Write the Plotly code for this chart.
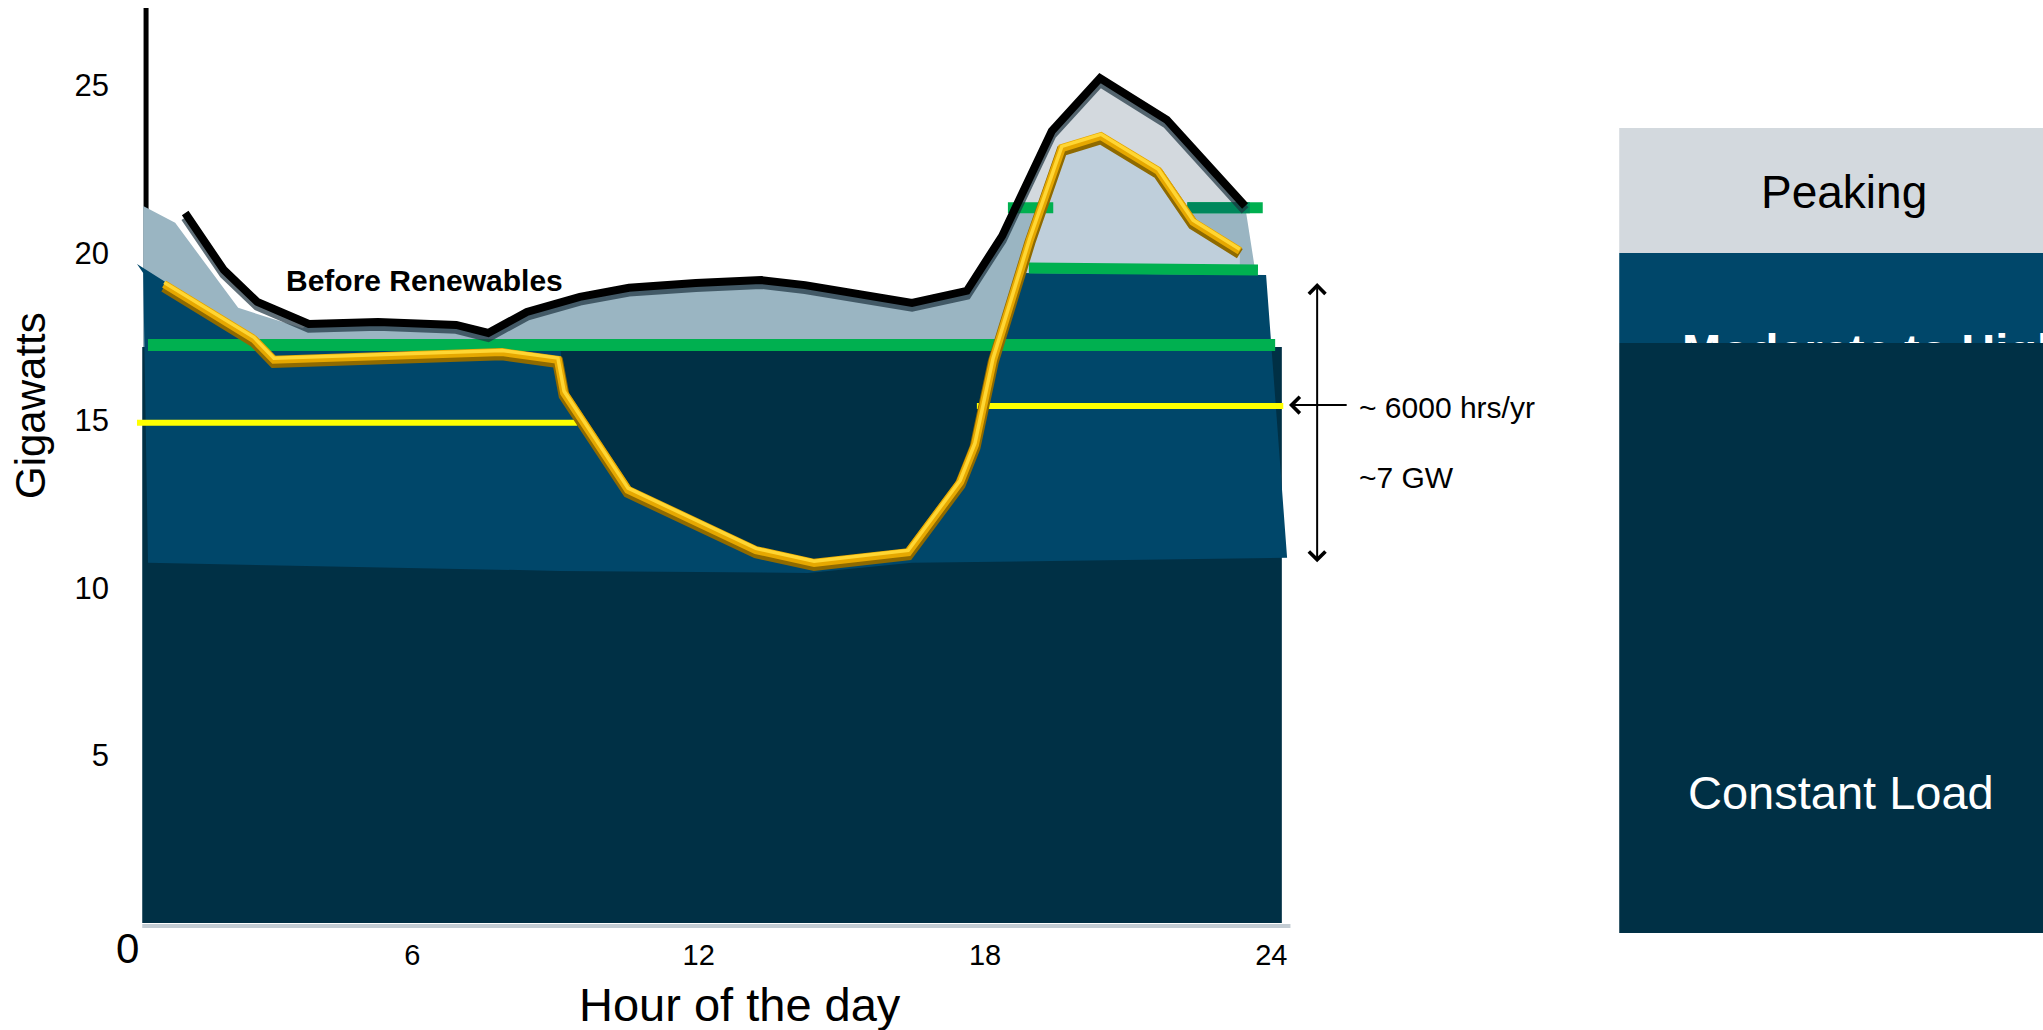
import numpy as np
import plotly.graph_objects as go

# ---------------- data ----------------
hour_ticks = [0, 6, 12, 18, 24]
hour_tick_text = ["", "6", "12", "18", "24"]
gw_ticks = [5, 10, 15, 20, 25]

# "Before Renewables" load curve (black)
before_hours = [1.24, 2.05, 2.75, 3.83, 5.28, 6.92, 7.59, 8.40, 9.51, 10.54, 11.94,
                13.31, 14.23, 16.47, 17.62, 18.36, 19.40, 20.41, 21.81, 23.45]
before_gw = [21.19, 19.49, 18.54, 17.88, 17.94, 17.85, 17.61, 18.24, 18.69, 18.96, 19.10,
             19.19, 19.04, 18.51, 18.87, 20.51, 23.64, 25.22, 23.97, 21.40]

# net load after renewables (gold)
after_hours = [0.80, 2.68, 3.10, 7.88, 9.05, 9.18, 10.52, 13.20, 14.42, 16.39, 17.48,
               17.79, 18.17, 18.94, 19.61, 20.43, 21.63, 22.36, 23.34]
after_gw = [19.07, 17.43, 16.81, 17.04, 16.81, 15.82, 12.93, 11.13, 10.75, 11.07, 13.16,
            14.27, 16.81, 20.39, 23.13, 23.49, 22.45, 20.93, 20.06]

# light area edges where it departs from the black curve
fill_lead_hours = [0.36, 1.03, 2.35, 3.70]
fill_lead_gw = [21.40, 20.90, 18.36, 17.75]
fill_tail_hours = [23.65, 23.90]
fill_tail_gw = [19.60, 17.30]

# constant-load block
base_hours = [0.34, 24.22]
base_top_gw = 17.19

# moderate-to-high block outline pieces
mid_left_hours = [0.46, 0.36, 0.23, 2.75, 9.10]
mid_left_gw = [10.75, 19.40, 19.67, 17.40, 17.20]
mid_top_gw = 19.40
mid_right_hours = [23.89, 24.33]
mid_right_gw = [19.34, 10.90]
mid_bottom_hours = [16.47, 14.29, 9.09, 0.46]
mid_bottom_gw = [10.75, 10.45, 10.51, 10.75]

# horizontal markers
green_main_hours = [0.46, 24.08]
green_main_gw = [17.25, 17.25]
green_mid_hours = [18.92, 23.72]
green_mid_gw = [19.55, 19.49]
green_top_level = 21.35
green_top_left_hours = [18.48, 19.43]
green_top_right_hours = [22.24, 23.82]
yellow_left_hours = [0.23, 9.45]
yellow_left_gw = [14.93, 14.93]
yellow_right_hours = [17.83, 24.25]
yellow_right_gw = [15.43, 15.43]

axis_line_hour = 0.42
axis_line_top = 27.31

# range annotation (~7 GW) and right-hand legend block
span_hour = 24.96
span_top, span_bottom = 19.10, 10.72
pointer_from, pointer_to, pointer_gw = 25.61, 24.37, 15.46
box_left, box_right = 31.29, 40.6
box_peaking = [20.0, 23.73]
box_moderate = [17.31, 20.0]
box_constant = [-0.30, 17.31]

# ---------------- colours ----------------
DARK = "#003045"
MID = "#00476a"
LIGHT = "#9ab5c2"
PALE = "#d3d9de"
PALE_BLUE = "#bfcfdb"
GREEN = "#00b050"
YELLOW = "#ffff00"
FONT = "Liberation Sans, Arial, sans-serif"

bh = np.array(before_hours)
bg = np.array(before_gw)
ah = np.array(after_hours)
ag = np.array(after_gw)

fig = go.Figure()


def poly(xs, ys, color, name=None):
    fig.add_trace(go.Scatter(x=list(xs), y=list(ys), mode="lines", fill="toself",
                             fillcolor=color, line=dict(width=0, color=color),
                             hoverinfo="skip", showlegend=False))


def line(xs, ys, color, width, opacity=1.0):
    fig.add_trace(go.Scatter(x=list(xs), y=list(ys), mode="lines",
                             line=dict(color=color, width=width), opacity=opacity,
                             hoverinfo="skip", showlegend=False))


# y-axis line
line([axis_line_hour, axis_line_hour], [0, axis_line_top], "black", 5)

# light area under the before-renewables curve
mask = bh >= 3.8
lx = fill_lead_hours + list(bh[mask]) + fill_tail_hours + [fill_tail_hours[-1], fill_lead_hours[0]]
ly = fill_lead_gw + list(bg[mask]) + fill_tail_gw + [16.9, 16.9]
poly(lx, ly, LIGHT)

# pale area of the evening peak (above the upper green level)
rise = (bh >= 18.3) & (bh <= 19.5)
h_up = np.interp(green_top_level, bg[rise], bh[rise])
peak_mask = bh > h_up
px_ = [h_up] + list(bh[peak_mask]) + [bh[-1] + 0.02, h_up]
py_ = [green_top_level] + list(bg[peak_mask]) + [green_top_level, green_top_level]
poly(px_, py_, PALE)

# pale-blue area under the gold peak
rise_a = (ah >= 18.1) & (ah <= 19.0)
h_cross = float(np.interp(mid_top_gw, ag[rise_a], ah[rise_a]))
gm = ah > h_cross
qx = [h_cross] + list(ah[gm]) + [ah[-1], h_cross]
qy = [mid_top_gw] + list(ag[gm]) + [mid_top_gw, mid_top_gw]
poly(qx, qy, PALE_BLUE)

# x-axis shadow
line([0.34, 24.4], [-0.09, -0.09], "#c3ccd3", 4)

# constant-load block
poly([base_hours[0], base_hours[1], base_hours[1], base_hours[0]],
     [0, 0, base_top_gw, base_top_gw], DARK)

# moderate-to-high block
gsel = (ah >= 9.15) & (ah <= 18.2)
mx = mid_left_hours + list(ah[gsel]) + [h_cross] + mid_right_hours + mid_bottom_hours
my = mid_left_gw + list(ag[gsel]) + [mid_top_gw] + mid_right_gw + mid_bottom_gw
poly(mx, my, MID)

# green markers
line(green_main_hours, green_main_gw, GREEN, 12)
line(green_mid_hours, green_mid_gw, GREEN, 11)
line(green_top_left_hours, [green_top_level] * 2, GREEN, 11)
line(green_top_right_hours, [green_top_level] * 2, GREEN, 11)
line([green_top_right_hours[0], 23.55], [green_top_level] * 2, "#00875c", 11)

# yellow markers
line(yellow_left_hours, yellow_left_gw, YELLOW, 6)
line(yellow_right_hours, yellow_right_gw, YELLOW, 6)

# before renewables (black, with soft shadow)
line(bh, bg - 0.13, "#1d3340", 9, 0.7)
line(bh, bg, "black", 8)

# after renewables (gold, bevelled look)
line(ah, ag - 0.08, "#8f6a00", 11)
line(ah, ag, "#e6a800", 8)
line(ah, ag + 0.05, "#ffd633", 3.5)

# right-hand block: text hidden under the constant band
fig.add_trace(go.Scatter(x=[(box_left + 40.6) / 2 + 0.68], y=[16.95], mode="text",
                         text=["<b>Moderate to High</b>"],
                         textfont=dict(family=FONT, size=47, color="white"),
                         cliponaxis=False, hoverinfo="skip", showlegend=False))

shapes = [
    dict(type="rect", xref="x", yref="y", x0=box_left, x1=box_right,
         y0=box_peaking[0], y1=box_peaking[1], fillcolor=PALE, line=dict(width=0),
         layer="below"),
    dict(type="rect", xref="x", yref="y", x0=box_left, x1=box_right,
         y0=box_moderate[0], y1=box_moderate[1], fillcolor=MID, line=dict(width=0),
         layer="below"),
    dict(type="rect", xref="x", yref="y", x0=box_left, x1=box_right,
         y0=box_constant[0], y1=box_constant[1], fillcolor=DARK, line=dict(width=0),
         layer="above"),
]

annotations = [
    dict(x=6.26, y=19.19, xref="x", yref="y", text="<b>Before Renewables</b>",
         showarrow=False, font=dict(family=FONT, size=30, color="black")),
    # ~7 GW span arrow
    dict(x=span_hour, y=span_top, ax=span_hour, ay=span_bottom, xref="x", yref="y",
         axref="x", ayref="y", text="", showarrow=True, arrowside="end+start",
         arrowhead=4, arrowsize=1.6, arrowwidth=2, arrowcolor="black",
         standoff=0, startstandoff=0),
    dict(x=pointer_to, y=pointer_gw, ax=pointer_from, ay=pointer_gw, xref="x", yref="y",
         axref="x", ayref="y", text="", showarrow=True, arrowhead=4, arrowsize=1.6,
         arrowwidth=2, arrowcolor="black", standoff=0, startstandoff=0),
    dict(x=25.80, y=15.40, xref="x", yref="y", text="~ 6000 hrs/yr", xanchor="left",
         showarrow=False, font=dict(family=FONT, size=30, color="black")),
    dict(x=25.80, y=13.31, xref="x", yref="y", text="~7 GW", xanchor="left",
         showarrow=False, font=dict(family=FONT, size=30, color="black")),
    # legend block labels
    dict(x=36.0, y=21.82, xref="x", yref="y", text="Peaking", showarrow=False,
         font=dict(family=FONT, size=46, color="black")),
    dict(x=35.94, y=3.91, xref="x", yref="y", text="Constant Load", showarrow=False,
         font=dict(family=FONT, size=47, color="white")),
    # axis titles
    dict(x=-0.0468, y=0.5688, xref="paper", yref="paper", text="Gigawatts",
         textangle=-90, showarrow=False, xanchor="center", yanchor="middle",
         font=dict(family=FONT, size=42, color="black")),
    dict(x=0.3224, y=-0.0742, xref="paper", yref="paper", text="Hour of the day",
         showarrow=False, xanchor="center", yanchor="middle",
         font=dict(family=FONT, size=47, color="black")),
    # origin label
    dict(x=0.04, y=-0.014, xref="x", yref="paper", text="0", showarrow=False,
         xanchor="center", yanchor="middle",
         font=dict(family=FONT, size=42, color="black")),
]

fig.update_layout(
    width=2043, height=1030,
    margin=dict(l=120, r=0, t=5, b=95),
    paper_bgcolor="white", plot_bgcolor="white",
    showlegend=False, hovermode=False,
    shapes=shapes, annotations=annotations,
    xaxis=dict(range=[-0.126, 40.17], tickvals=hour_ticks, ticktext=hour_tick_text,
               showgrid=False, zeroline=False, showline=False, ticks="",
               tickfont=dict(family=FONT, size=29, color="black"),
               fixedrange=True),
    yaxis=dict(range=[-0.358, 27.40], tickvals=gw_ticks, showgrid=False,
               zeroline=False, showline=False, ticks="", ticklabelstandoff=10,
               tickfont=dict(family=FONT, size=31, color="black"),
               fixedrange=True),
)

fig.write_html("out.html")
